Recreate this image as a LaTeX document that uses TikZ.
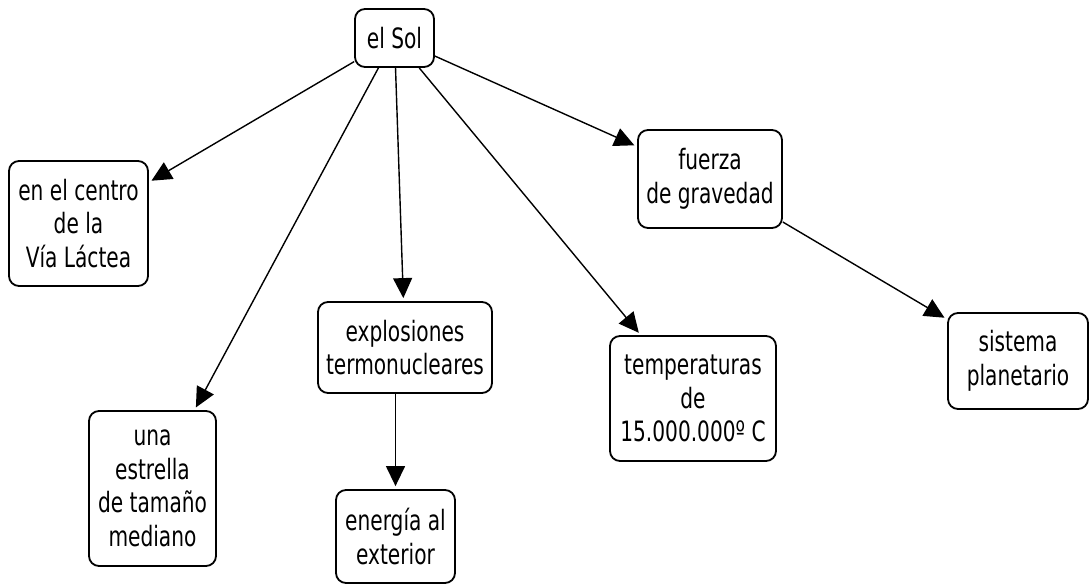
\documentclass[tikz,border=0pt]{standalone}
\usepackage{fontspec}
\setmainfont{DejaVu Sans}[FakeStretch=0.72]
\usetikzlibrary{arrows.meta}

\tikzset{
  concept/.style={draw, line width=1.8pt, rounded corners=10pt, align=center, inner sep=2pt,
    font=\fontsize{28}{33.5}\selectfont},
  link/.style={line width=1.4pt, -{Triangle[length=20pt,width=19pt]}, shorten >=3pt}
}

\begin{document}
\begin{tikzpicture}[x=1pt,y=-1pt]
    \useasboundingbox (0,0) rectangle (1091,585);

    \node [concept, minimum width=79pt, minimum height=58pt] (sol) at (394.5,38) {el Sol};
    \node [concept, minimum width=139pt, minimum height=125pt] (centro) at (78.5,223.5) {en el centro\\de la\\V\'ia L\'actea};
    \node [concept, minimum width=144pt, minimum height=98pt] (fuerza) at (710,179) {fuerza\\de gravedad};
    \node [concept, minimum width=127pt, minimum height=155pt] (estrella) at (152.5,488.5) {una\\estrella\\de tama\~no\\mediano};
    \node [concept, minimum width=174pt, minimum height=91pt] (explosiones) at (405,347.5) {explosiones\\termonucleares};
    \node [concept, minimum width=119pt, minimum height=93pt] (energia) at (395.5,536.5) {energ\'ia al\\exterior};
    \node [concept, minimum width=166pt, minimum height=125pt] (temperaturas) at (693,398.5) {temperaturas\\de\\15.000.000º C};
    \node [concept, minimum width=140pt, minimum height=96pt] (sistema) at (1018,361) {sistema\\planetario};

    \draw [link] (sol) -- (centro);
    \draw [link] (sol) -- (estrella);
    \draw [link] (sol) -- (explosiones);
    \draw [link] (sol) -- (temperaturas);
    \draw [link] (sol) -- (fuerza);
    \draw [link] (fuerza) -- (sistema);
    \draw [link] (explosiones.south -| energia.north) -- (energia.north);
\end{tikzpicture}
\end{document}
